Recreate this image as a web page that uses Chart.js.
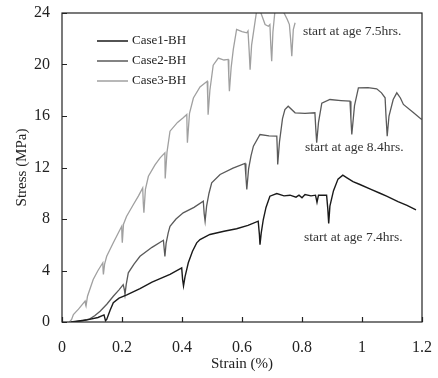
<!DOCTYPE html>
<html>
<head>
<meta charset="utf-8">
<script src="https://cdn.jsdelivr.net/npm/chart.js@4"></script>
<style>
  html, body { margin: 0; padding: 0; background: #fff; }
  #wrap { position: relative; width: 438px; height: 378px; }
</style>
</head>
<body>
<div id="wrap"><canvas id="stressChart"></canvas></div>
<script>
// Datos (deformación %, tensión MPa)
const seriesLabels = ['Case1-BH', 'Case2-BH', 'Case3-BH'];

const case1X = [0.03, 0.08, 0.12, 0.14, 0.145, 0.149, 0.16, 0.171, 0.19, 0.216, 0.26, 0.3, 0.36, 0.399, 0.402, 0.405, 0.41, 0.421, 0.435, 0.449, 0.46, 0.493, 0.54, 0.582, 0.62, 0.654, 0.658, 0.66, 0.664, 0.671, 0.68, 0.693, 0.716, 0.74, 0.76, 0.78, 0.79, 0.8, 0.81, 0.83, 0.845, 0.85, 0.855, 0.882, 0.886, 0.889, 0.893, 0.905, 0.92, 0.936, 0.95, 0.97, 0.993, 1.03, 1.06, 1.082, 1.12, 1.15, 1.18];
const case1Y = [0, 0.15, 0.35, 0.55, 0.1, 0.2, 0.9, 1.5, 1.85, 2.1, 2.6, 3.1, 3.7, 4.2, 3.3, 2.8, 3.5, 4.6, 5.5, 6.15, 6.4, 6.8, 7.05, 7.24, 7.5, 7.83, 6.8, 6.0, 6.9, 7.96, 8.9, 9.77, 9.98, 9.8, 9.85, 9.7, 9.85, 9.65, 9.9, 9.8, 9.85, 9.3, 9.85, 9.85, 8.8, 7.65, 9.0, 10.2, 11.1, 11.4, 11.2, 10.9, 10.68, 10.3, 10.0, 9.77, 9.35, 9.05, 8.7];

const case2X = [0.04, 0.07, 0.093, 0.11, 0.127, 0.15, 0.171, 0.19, 0.204, 0.208, 0.21, 0.214, 0.221, 0.24, 0.26, 0.3, 0.338, 0.341, 0.343, 0.347, 0.354, 0.36, 0.38, 0.404, 0.44, 0.471, 0.474, 0.477, 0.482, 0.49, 0.499, 0.527, 0.57, 0.61, 0.613, 0.616, 0.622, 0.63, 0.638, 0.66, 0.69, 0.716, 0.718, 0.719, 0.725, 0.735, 0.743, 0.754, 0.777, 0.81, 0.843, 0.846, 0.849, 0.855, 0.866, 0.893, 0.93, 0.96, 0.963, 0.966, 0.975, 0.988, 1.02, 1.049, 1.065, 1.077, 1.08, 1.084, 1.09, 1.104, 1.116, 1.128, 1.138, 1.17, 1.199];
const case2Y = [0, 0.1, 0.25, 0.5, 0.84, 1.4, 2.0, 2.5, 2.9, 2.5, 2.14, 2.9, 3.82, 4.5, 5.1, 5.8, 6.35, 5.6, 5.1, 6.1, 6.93, 7.44, 8.0, 8.48, 8.9, 9.38, 8.4, 7.83, 9.0, 10.0, 10.81, 11.46, 11.95, 12.31, 11.3, 10.3, 11.9, 12.9, 13.66, 14.56, 14.45, 14.43, 13.2, 12.23, 14.0, 15.8, 16.5, 16.76, 16.25, 16.2, 16.25, 15.0, 13.92, 15.5, 17.0, 17.28, 17.2, 17.15, 15.8, 14.56, 16.8, 18.19, 18.2, 18.11, 17.8, 17.41, 16.0, 14.43, 16.0, 17.28, 17.8, 17.4, 16.9, 16.3, 15.73];

const case3X = [0.025, 0.032, 0.038, 0.055, 0.077, 0.079, 0.08, 0.085, 0.104, 0.12, 0.136, 0.137, 0.138, 0.142, 0.149, 0.171, 0.185, 0.199, 0.2, 0.201, 0.205, 0.215, 0.238, 0.255, 0.269, 0.271, 0.273, 0.278, 0.288, 0.31, 0.327, 0.343, 0.3435, 0.344, 0.35, 0.36, 0.385, 0.404, 0.416, 0.417, 0.418, 0.425, 0.438, 0.46, 0.484, 0.486, 0.487, 0.493, 0.504, 0.521, 0.54, 0.554, 0.556, 0.558, 0.564, 0.571, 0.582, 0.6, 0.616, 0.62, 0.624, 0.627, 0.632, 0.638, 0.649, 0.66, 0.677, 0.688, 0.693, 0.696, 0.699, 0.703, 0.71, 0.738, 0.751, 0.758, 0.762, 0.766, 0.771, 0.777];
const case3Y = [0, 0.2, 0.58, 1.0, 1.62, 1.3, 1.23, 2.0, 3.3, 4.0, 4.6, 4.0, 3.69, 4.5, 5.1, 6.15, 6.8, 7.44, 6.6, 6.15, 7.6, 8.2, 9.13, 9.8, 10.42, 9.2, 8.48, 10.3, 11.32, 12.2, 12.75, 13.14, 12.0, 11.15, 13.2, 14.82, 15.5, 15.86, 16.12, 14.8, 13.92, 16.2, 17.4, 18.25, 18.7, 17.2, 16.1, 18.0, 19.95, 20.5, 20.35, 20.39, 19.0, 17.93, 19.8, 21.17, 22.72, 22.55, 22.46, 22.6, 21.0, 19.6, 21.5, 22.46, 24.2, 24.2, 23.1, 22.97, 23.1, 21.5, 20.26, 22.5, 24.2, 24.1, 23.5, 23.1, 22.0, 20.64, 22.72, 23.24];

const xTicks = [0, 0.2, 0.4, 0.6, 0.8, 1.0, 1.2];
const xTickLabels = ['0', '0.2', '0.4', '0.6', '0.8', '1', '1.2'];
const yTicks = [0, 4, 8, 12, 16, 20, 24];
const yTickLabels = ['0', '4', '8', '12', '16', '20', '24'];

// Textos de la figura y su posición en unidades de datos
const noteTexts = ['start at age 7.5hrs.', 'start at age 8.4hrs.', 'start at age 7.4hrs.'];
const noteX = [0.803, 0.81, 0.807];
const noteY = [22.6, 13.55, 6.56];

const serif = '"Liberation Serif", "Times New Roman", serif';
const lineColors = ['#1a1a1a', '#5a5a5a', '#a0a0a0'];

function toPoints(xs, ys) {
  return xs.map((x, i) => ({ x: x, y: ys[i] }));
}

// Marco, marcas hacia dentro, leyenda y notas
const framePlugin = {
  id: 'frame',
  afterDatasetsDraw(chart) {
    const { ctx, chartArea: a, scales } = chart;
    ctx.save();
    ctx.strokeStyle = '#222';
    ctx.lineWidth = 1.2;
    ctx.strokeRect(a.left, a.top, a.right - a.left, a.bottom - a.top);

    ctx.beginPath();
    xTicks.forEach(v => {
      const px = Math.round(scales.x.getPixelForValue(v)) + 0.5;
      ctx.moveTo(px, a.bottom);
      ctx.lineTo(px, a.bottom - 5);
    });
    yTicks.forEach(v => {
      const py = Math.round(scales.y.getPixelForValue(v)) + 0.5;
      ctx.moveTo(a.left, py);
      ctx.lineTo(a.left + 5, py);
    });
    ctx.stroke();

    ctx.font = '13px ' + serif;
    ctx.textBaseline = 'middle';
    ctx.textAlign = 'left';
    chart.data.datasets.forEach((ds, i) => {
      const y = 41 + i * 20;
      ctx.strokeStyle = ds.borderColor;
      ctx.lineWidth = 1.5;
      ctx.beginPath();
      ctx.moveTo(97, y);
      ctx.lineTo(128, y);
      ctx.stroke();
      ctx.fillStyle = '#222';
      ctx.fillText(ds.label, 132, y);
    });

    ctx.font = '13.5px ' + serif;
    ctx.fillStyle = '#333';
    noteTexts.forEach((t, i) => {
      ctx.fillText(t, scales.x.getPixelForValue(noteX[i]), scales.y.getPixelForValue(noteY[i]));
    });
    ctx.restore();
  }
};

Chart.defaults.font.family = serif;
Chart.defaults.color = '#222';

new Chart(document.getElementById('stressChart'), {
  type: 'scatter',
  data: {
    datasets: [
      { label: seriesLabels[0], data: toPoints(case1X, case1Y), showLine: true, borderColor: lineColors[0], borderWidth: 1.4, pointRadius: 0, tension: 0 },
      { label: seriesLabels[1], data: toPoints(case2X, case2Y), showLine: true, borderColor: lineColors[1], borderWidth: 1.3, pointRadius: 0, tension: 0 },
      { label: seriesLabels[2], data: toPoints(case3X, case3Y), showLine: true, borderColor: lineColors[2], borderWidth: 1.3, pointRadius: 0, tension: 0 }
    ]
  },
  options: {
    responsive: true,
    maintainAspectRatio: false,
    animation: false,
    layout: { padding: { top: 13, right: 16, left: 0, bottom: 0 } },
    plugins: { legend: { display: false }, tooltip: { enabled: false } },
    scales: {
      x: {
        type: 'linear', min: 0, max: 1.2,
        afterBuildTicks: s => { s.ticks = xTicks.map(v => ({ value: v })); },
        afterFit: s => { s.height = 56; s.paddingLeft = 0; s.paddingRight = 0; },
        ticks: { font: { size: 16 }, padding: 16, maxRotation: 0, callback: (v, i) => xTickLabels[i] },
        grid: { display: false, drawTicks: false },
        border: { display: false },
        title: { display: true, text: 'Strain (%)', font: { size: 15 }, padding: { top: 0, bottom: 5 } }
      },
      y: {
        type: 'linear', min: 0, max: 24,
        afterBuildTicks: s => { s.ticks = yTicks.map(v => ({ value: v })); },
        afterFit: s => { s.width = 62; s.paddingTop = 0; s.paddingBottom = 0; },
        ticks: { font: { size: 16 }, padding: 12, callback: (v, i) => yTickLabels[i] },
        grid: { display: false, drawTicks: false },
        border: { display: false },
        title: { display: true, text: 'Stress (MPa)', font: { size: 15 }, padding: { top: 13, bottom: 0 } }
      }
    }
  },
  plugins: [framePlugin]
});
</script>
</body>
</html>
